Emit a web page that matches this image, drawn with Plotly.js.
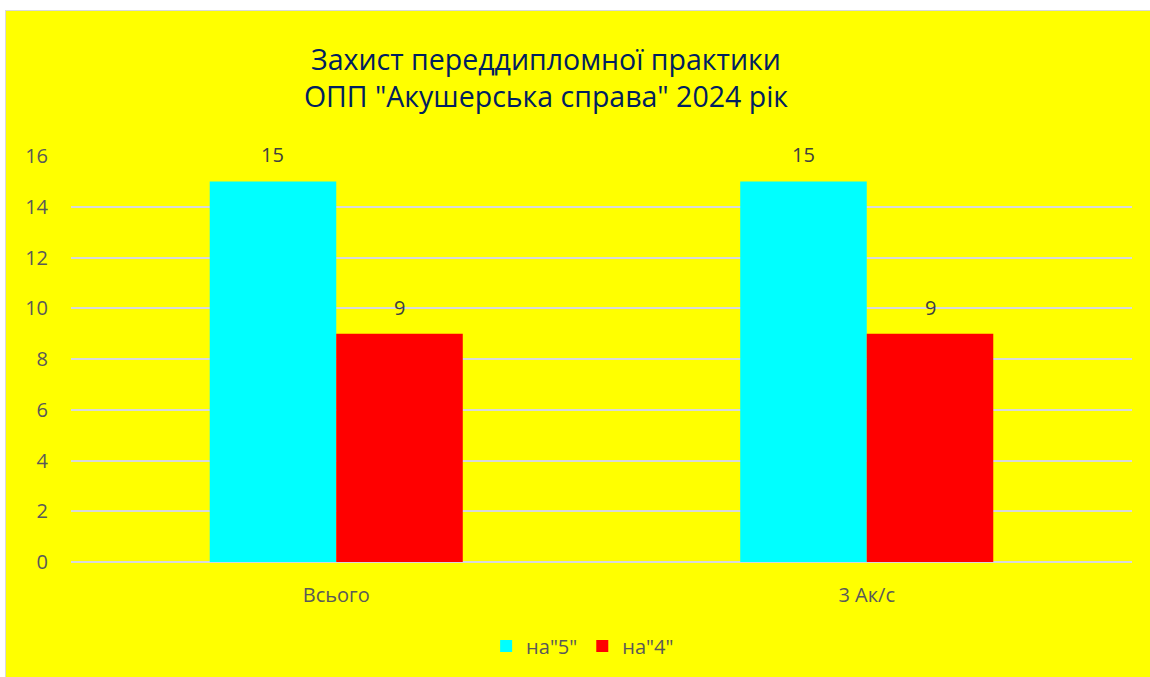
<!DOCTYPE html>
<html>
<head>
<meta charset="utf-8">
<script src="https://cdn.plot.ly/plotly-3.0.1.min.js"></script>
<style>
html,body{margin:0;padding:0;background:#ffffff;}
#chart{position:absolute;left:5px;top:10px;width:1145px;height:667px;border-left:1px solid #d9d9d9;border-top:1px solid #d9d9d9;box-sizing:border-box;}
</style>
</head>
<body>
<div id="chart"></div>
<script>
const categories = ["Всього", "3 Ак/с"];
const seriesNames = ["на\"5\"", "на\"4\""];
const grade5 = [15, 15];
const grade4 = [9, 9];
const yTicks = [0, 2, 4, 6, 8, 10, 12, 14, 16];
const titleLines = ["Захист переддипломної практики", "ОПП \"Акушерська справа\" 2024 рік"];

const font = "'Open Sans', 'Noto Sans', sans-serif";
const gray = "#595959";

const traces = [
  {type: "bar", name: seriesNames[0], x: categories, y: grade5, marker: {color: "#00FFFF"}, hoverinfo: "y"},
  {type: "bar", name: seriesNames[1], x: categories, y: grade4, marker: {color: "#FF0000"}, hoverinfo: "y"}
];

const annotations = [];
[grade5, grade4].forEach((vals, si) => {
  vals.forEach((v, ci) => {
    annotations.push({
      x: ci, y: v, xref: "x", yref: "y", text: String(v), showarrow: false,
      xshift: (si === 0 ? -1 : 1) * 63.5, yanchor: "bottom", yshift: 11,
      font: {family: font, size: 20, color: "#404040"}
    });
  });
});

const layout = {
  width: 1145, height: 667,
  paper_bgcolor: "#FFFF00", plot_bgcolor: "#FFFF00",
  margin: {l: 65, r: 19, t: 145, b: 116},
  title: {
    text: titleLines.join("<br>"),
    x: 0.4716, xanchor: "center", xref: "container",
    y: 0.912, yanchor: "top", yref: "container",
    font: {family: font, size: 28.5, color: "#002060"}
  },
  barmode: "group", bargap: 0.523, bargroupgap: 0,
  xaxis: {
    type: "category", showgrid: false, zeroline: false, showline: false,
    ticks: "", ticklabelstandoff: 19,
    tickfont: {family: font, size: 20, color: gray}
  },
  yaxis: {
    range: [0, 16], tickvals: yTicks, ticktext: yTicks.map(String),
    showgrid: true, gridcolor: "#D9D9D9", gridwidth: 1.5,
    zeroline: true, zerolinecolor: "#D9D9D9", zerolinewidth: 1.5,
    showline: false, ticks: "", ticklabelstandoff: 22,
    tickfont: {family: font, size: 20, color: gray}
  },
  showlegend: true,
  legend: {
    orientation: "h", x: 0.5036, xanchor: "center", xref: "container",
    y: 0.048, yanchor: "middle", yref: "container",
    font: {family: font, size: 20, color: gray}, bgcolor: "rgba(0,0,0,0)",
    itemwidth: 30
  },
  annotations: annotations
};

Plotly.newPlot("chart", traces, layout, {displayModeBar: false, responsive: false});
</script>
</body>
</html>
